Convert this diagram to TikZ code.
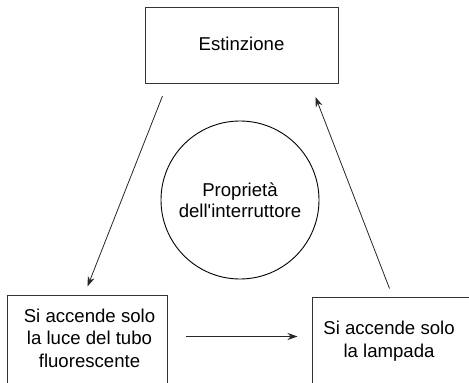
\documentclass[tikz,border=0pt]{standalone}
\usepackage{fontspec}
\setmainfont{Liberation Sans}
\usepackage{tikz}
\usetikzlibrary{positioning, arrows.meta}
\tikzset{
x=1pt, y=-1pt, % pixel-like coordinates, y going down
>={Stealth[length=10pt, width=7pt]}, % filled arrow heads
box/.style={draw=black!80, line width=1pt, rectangle, inner sep=0pt}, % the three states
prop/.style={draw=black, line width=0.9pt, circle, align=center, inner sep=0pt, minimum size=158pt}, % the circle in the middle
txt/.style={align=center, font=\fontsize{18.6}{22.5}\selectfont}, % texts in the states
arr/.style={->, line width=0.8pt, black!85}, % the transitions
}

\begin{document}
\begin{tikzpicture}
            \useasboundingbox (0,0) rectangle (469,383);
            \clip (0,0) rectangle (469,383);
            % states
            \node[box, minimum width=193pt, minimum height=76pt] (estinzione) at (241.5,45.5) {};
            \node[box, minimum width=160pt, minimum height=92pt] (tubo) at (87,341) {};
            \node[box, minimum width=160pt, minimum height=90pt] (lampada) at (392,342) {};
            \node[txt] (estinzionetxt) at (241.5,44) {Estinzione};
            \node[txt] (tubotxt) at (89.5,338) {Si accende solo\\la luce del tubo\\fluorescente};
            \node[txt] (lampadatxt) at (389,341) {Si accende solo\\la lampada};
            % property of the switch
            \node[prop, font=\fontsize{18.6}{21}\selectfont] (interruttore) at (240,200) {Proprietà\\dell\textquotesingle interruttore};
            % transitions
            \draw[arr] ([xshift=18pt, yshift=-12pt]estinzione.south west) -- ([xshift=81pt, yshift=8pt]tubo.north west);
            \draw[arr] ([xshift=18pt, yshift=-42pt]tubo.north east) -- ([xshift=-14pt, yshift=-40pt]lampada.north west);
            \draw[arr] ([xshift=78pt, yshift=8pt]lampada.north west) -- ([xshift=-23pt, yshift=-13pt]estinzione.south east);
        \end{tikzpicture}
\end{document}
